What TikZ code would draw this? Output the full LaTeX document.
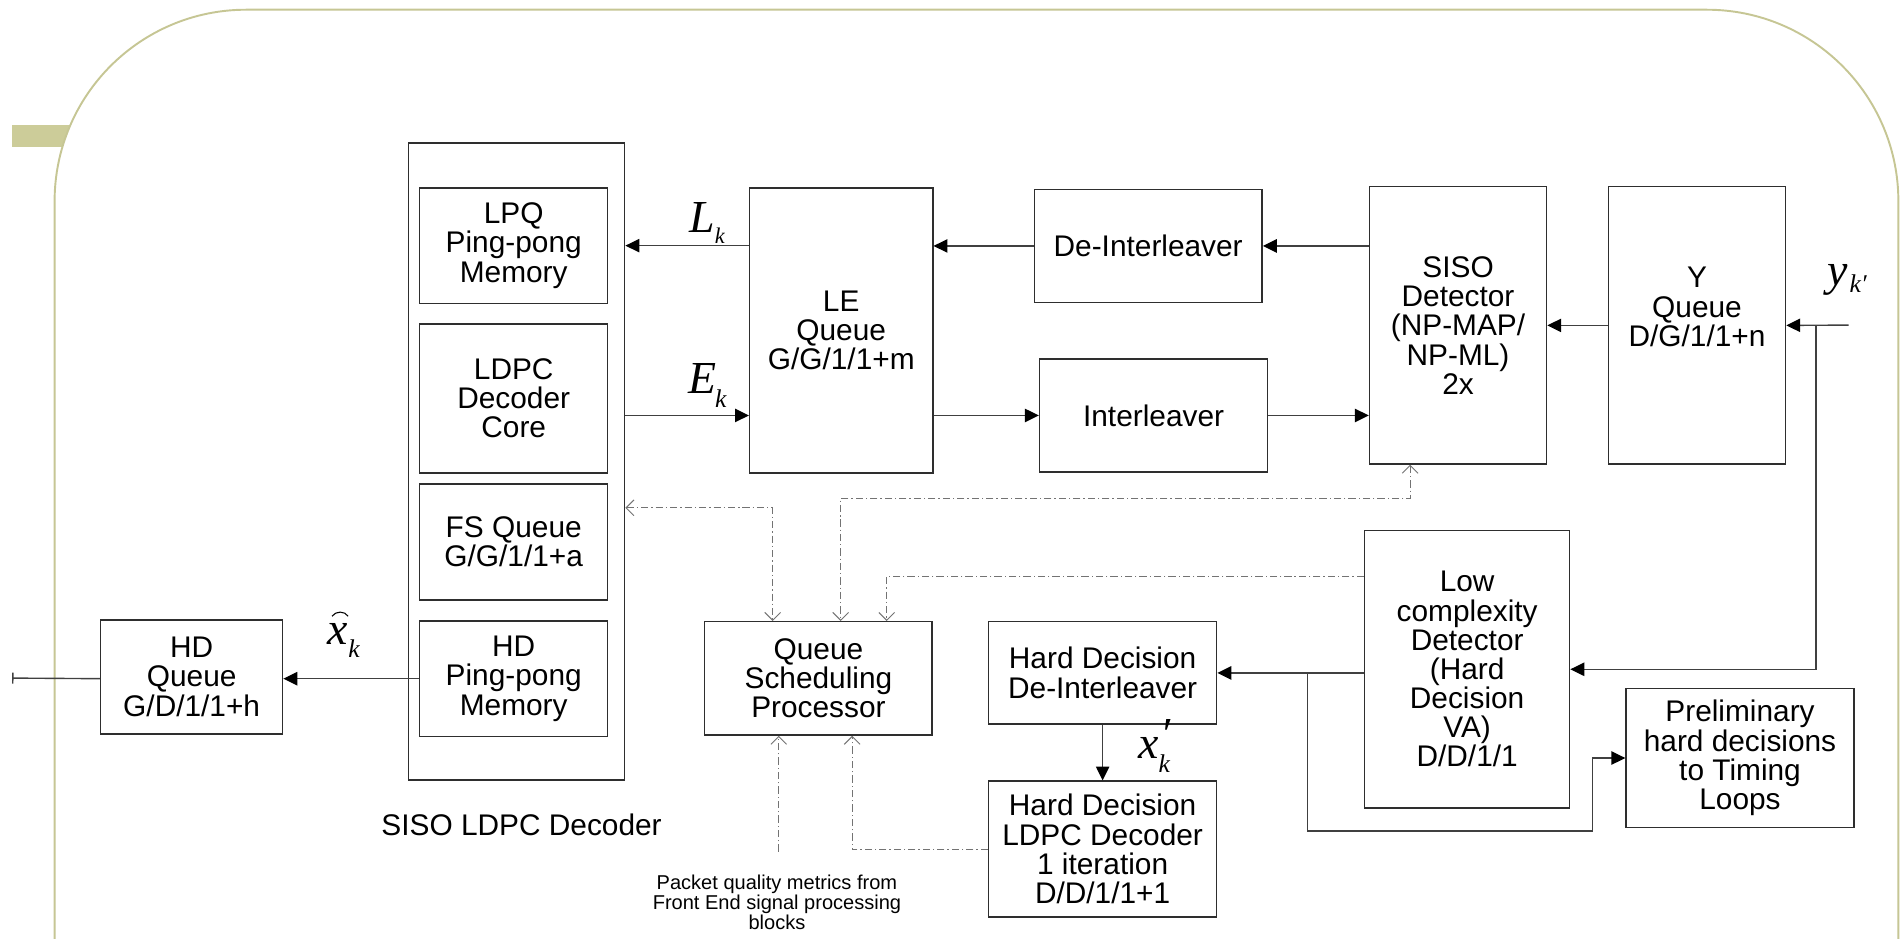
\documentclass[tikz,border=0pt]{standalone}
\usepackage{fontspec}
\setmainfont{Liberation Sans}
\newfontfamily\tms{Liberation Serif}
\usetikzlibrary{arrows.meta}
\definecolor{olv}{RGB}{204,204,153}
\definecolor{olvline}{RGB}{198,198,148}
\newcommand\fs{\fontsize{14}{13.7}\selectfont}
\newcommand\bigit{\tms\itshape\fontsize{21.5}{21.5}\selectfont}
\newcommand\subit{\tms\itshape\fontsize{12}{12}\selectfont}
\newcommand\mkbox[6]{\node[box, minimum width={(#4-#2)*0.02cm}, minimum height={(#5-#3)*0.02cm}] (#1) at ({(#2+#4)/2},{(#3+#5)/2}) {#6};}
\tikzset{
  box/.style={draw=black!82, line width=0.65pt, fill=white, align=center, inner sep=0pt, font=\fs},
  txt/.style={inner sep=0pt, align=center, font=\fs},
  lbl/.style={inner sep=0pt},
  conn/.style={draw=black!75, line width=0.65pt, -{Triangle[length=2.3mm,width=2.2mm,color=black]}},
  dconn/.style={draw=black!55, line width=0.45pt, dash pattern=on 3.4pt off 1.4pt on 0.6pt off 1.4pt},
  dtip/.tip={Straight Barb[length=1.3mm,width=2.6mm]}
}
\begin{document}
\begin{tikzpicture}[x=0.02cm,y=-0.02cm]
\useasboundingbox (0,0) rectangle (1568,774);
% frame
\fill[olv] (10,103) rectangle (75,121);
\filldraw[fill=white, draw=olvline, line width=0.9pt, rounded corners=3.16cm]
  (45,820) -- (45,8) -- (1565,8) -- (1565,820);

% SISO LDPC decoder
\mkbox{sisoldpc}{337}{118}{515}{643}{}
\mkbox{lpq}{346}{155}{501}{250}{LPQ\\Ping-pong\\Memory}
\mkbox{core}{346}{267}{501}{390}{LDPC\\Decoder\\Core}
\mkbox{fsq}{346}{399}{501}{494.5}{FS Queue\\G/G/1/1+a}
\mkbox{hdp}{346}{512}{501}{607}{HD\\Ping-pong\\Memory}
\node[txt] (sl) at (430,680) {SISO LDPC Decoder};

\mkbox{hdq}{83}{511}{233}{605}{HD\\Queue\\G/D/1/1+h}
\mkbox{le}{618}{155}{769}{390}{LE\\Queue\\G/G/1/1+m}
\mkbox{di}{852.6}{156}{1040.5}{249.5}{De-Interleaver}
\mkbox{il}{857}{296}{1045}{389}{Interleaver}
\mkbox{siso}{1129}{154}{1275}{382.5}{SISO\\Detector\\(NP-MAP/\\NP-ML)\\2x}
\mkbox{yq}{1326}{154}{1472}{382.5}{}
\node[txt] (yqt) at (1399,253) {Y\\Queue\\D/G/1/1+n};
\mkbox{lc}{1125}{437.5}{1294}{666}{Low\\complexity\\Detector\\(Hard\\Decision\\VA)\\D/D/1/1}
\mkbox{pre}{1340.5}{567.5}{1528.4}{682.3}{Preliminary\\hard decisions\\to Timing\\Loops}
\mkbox{hdd}{815}{512.5}{1003}{597}{Hard Decision\\De-Interleaver}
\mkbox{hdl}{815}{644}{1003}{756}{Hard Decision\\LDPC Decoder\\1 iteration\\D/D/1/1+1}
\mkbox{qsp}{581}{512.5}{768.4}{606}{Queue\\Scheduling\\Processor}
\node[inner sep=0pt, align=center, font=\fontsize{9.4}{9.4}\selectfont] (pkt) at (640.5,743.5)
  {Packet quality metrics from\\Front End signal processing\\blocks};

% math labels
\node[lbl, anchor=base west] (lk) at (568,192) {\bigit L\raisebox{-4.8pt}{\subit\fontsize{10.5}{10.5}\selectfont k}};
\node[lbl, anchor=base west] (ek) at (567,324) {\bigit E\kern-0.5pt\raisebox{-7pt}{\subit k}};
\node[lbl, anchor=base west] (xhk) at (270,531.7) {\bigit x\raisebox{-5.7pt}{\subit k}};
\draw[line width=0.5pt] (273.7,508) .. controls (277,503.5) and (284,503.5) .. (287,508);
\node[lbl, anchor=base west] (xpk) at (938,625) {\bigit x\rlap{\kern1pt\raisebox{4pt}{′}}\raisebox{-6.8pt}{\subit k}};
\node[lbl, anchor=base west] (yk) at (1506,235) {\bigit y\raisebox{-3.7pt}{\subit\kern1pt k′}};

% coordinates
\coordinate (out) at (10,559);
\coordinate (yin) at (1524,268);
\coordinate (j1) at (1497,268);
\coordinate (j2) at (1078,0);
\coordinate (j3) at (1313,685);
\coordinate (da) at (637,418.6);
\coordinate (db1) at (1162.5,410.8);
\coordinate (db2) at (693,410.8);
\coordinate (dc) at (731,474.9);
\coordinate (dd) at (642,702);
\coordinate (de) at (702.5,700.5);

% solid connectors
\draw[conn] (le.west |- lpq.east) -- (sisoldpc.east |- lpq.east);
\draw[conn] (sisoldpc.east |- il.west) -- (le.west |- il.west);
\draw[conn] (di.west) -- (le.east |- di.west);
\draw[conn] (le.east |- il.west) -- (il.west);
\draw[conn] (siso.west |- di.east) -- (di.east);
\draw[conn] (il.east) -- (siso.west |- il.east);
\draw[conn] (yq.west) -- (siso.east);
\draw[conn] (yin) -- (yq.east);
\draw[conn] (j1) |- (lc.east);
\draw[conn] (lc.west |- hdd.east) -- (hdd.east);
\draw[conn] (hdd.east -| j2) |- (j3) |- (pre.west);
\draw[conn] (hdd.south) -- (hdl.north);
\draw[conn] (hdp.west) -- (hdq.east |- hdp.west);
\draw[draw=black!75, line width=0.65pt, -{Bar[width=1.8mm]}] (hdq.west |- hdp.west) -- (out);

% dash-dot connectors
\draw[dconn, dtip-dtip] (sisoldpc.east |- da) -- (da) -- (da |- qsp.north);
\draw[dconn, dtip-dtip] (db1 |- siso.south) -- (db1) -- (db2) -- (db2 |- qsp.north);
\draw[dconn, -dtip] (lc.west |- dc) -- (dc) -- (dc |- qsp.north);
\draw[dconn, -dtip] (dd) -- (dd |- qsp.south);
\draw[dconn, -dtip] (hdl.west |- de) -- (de) -- (de |- qsp.south);
\end{tikzpicture}
\end{document}
